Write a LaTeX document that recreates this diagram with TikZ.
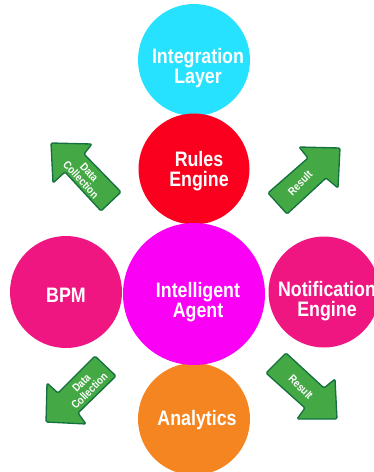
\documentclass[tikz,border=0pt]{standalone}
\usepackage{fontspec}
\setmainfont[FakeStretch=0.85,BoldFont={Liberation Sans Bold}]{Liberation Sans}
\tikzset{
 x=0.75pt,y=-0.75pt,
 bub/.style={circle,inner sep=0pt,minimum size=#1*0.75pt},
 bubtext/.style={text=white,font=\bfseries\fontsize{15.7}{15}\selectfont,align=center,inner sep=0pt},
 arrowbody/.style={fill=arrowgreen,draw=arrowedge,line width=1pt,line join=round,rounded corners=1pt},
 arrowtext/.style={text=white,font=\bfseries\fontsize{8.4}{8.5}\selectfont,align=center,inner sep=0pt},
}
\definecolor{arrowgreen}{HTML}{44A845}
\definecolor{arrowedge}{HTML}{14713F}
\begin{document}
\begin{tikzpicture}
\useasboundingbox (0,0) rectangle (374,472);
\begin{scope}
\clip (0,0) rectangle (374,472);
\node[bub=112,fill={rgb,255:red,38;green,226;blue,255}] (integ) at (194,60) {};
\node[bub=111,fill={rgb,255:red,250;green,0;blue,30}] (rules) at (194,169) {};
\node[bub=112,fill={rgb,255:red,240;green,22;blue,130}] (bpm) at (66,292) {};
\node[bub=111,fill={rgb,255:red,240;green,22;blue,130}] (notif) at (324,292) {};
\node[bub=112,fill={rgb,255:red,245;green,133;blue,32}] (ana) at (194,419) {};
\node[bub=142,fill={rgb,255:red,250;green,0;blue,245}] (agent) at (194,294) {};
\node[bubtext] (integt) at (198,68) {Integration\\Layer};
\node[bubtext] (rulest) at (199,171) {Rules\\Engine};
\node[bubtext] (bpmt) at (66,295) {BPM};
\node[bubtext] (notift) at (327,301) {Notification\\Engine};
\node[bubtext] (anat) at (197,420) {Analytics};
\node[bubtext] (agentt) at (198,302) {Intelligent\\Agent};
\end{scope}
\draw[arrowbody] (51,143) -- (92,144) -- (84,154) -- (121,192) -- (101,211) -- (65,172) -- (53,183) -- cycle;
\draw[arrowbody] (340,148) -- (299,147) -- (308,158) -- (268,193) -- (287,214) -- (326,178) -- (338,188) -- cycle;
\draw[arrowbody] (46,422) -- (47,383) -- (58,393) -- (95,356) -- (116,376) -- (78,413) -- (86,424) -- cycle;
\draw[arrowbody] (337,419) -- (297,419) -- (305,408) -- (266,373) -- (286,353) -- (324,388) -- (335,379) -- cycle;
\node[arrowtext,rotate=-47] (t1) at (85,176) {Data\\Collection};
\node[arrowtext,rotate=45] (t2) at (300,183) {Result};
\node[arrowtext,rotate=45] (t3) at (85.5,387) {Data\\Collection};
\node[arrowtext,rotate=-45] (t4) at (301,387) {Result};
\end{tikzpicture}
\end{document}
